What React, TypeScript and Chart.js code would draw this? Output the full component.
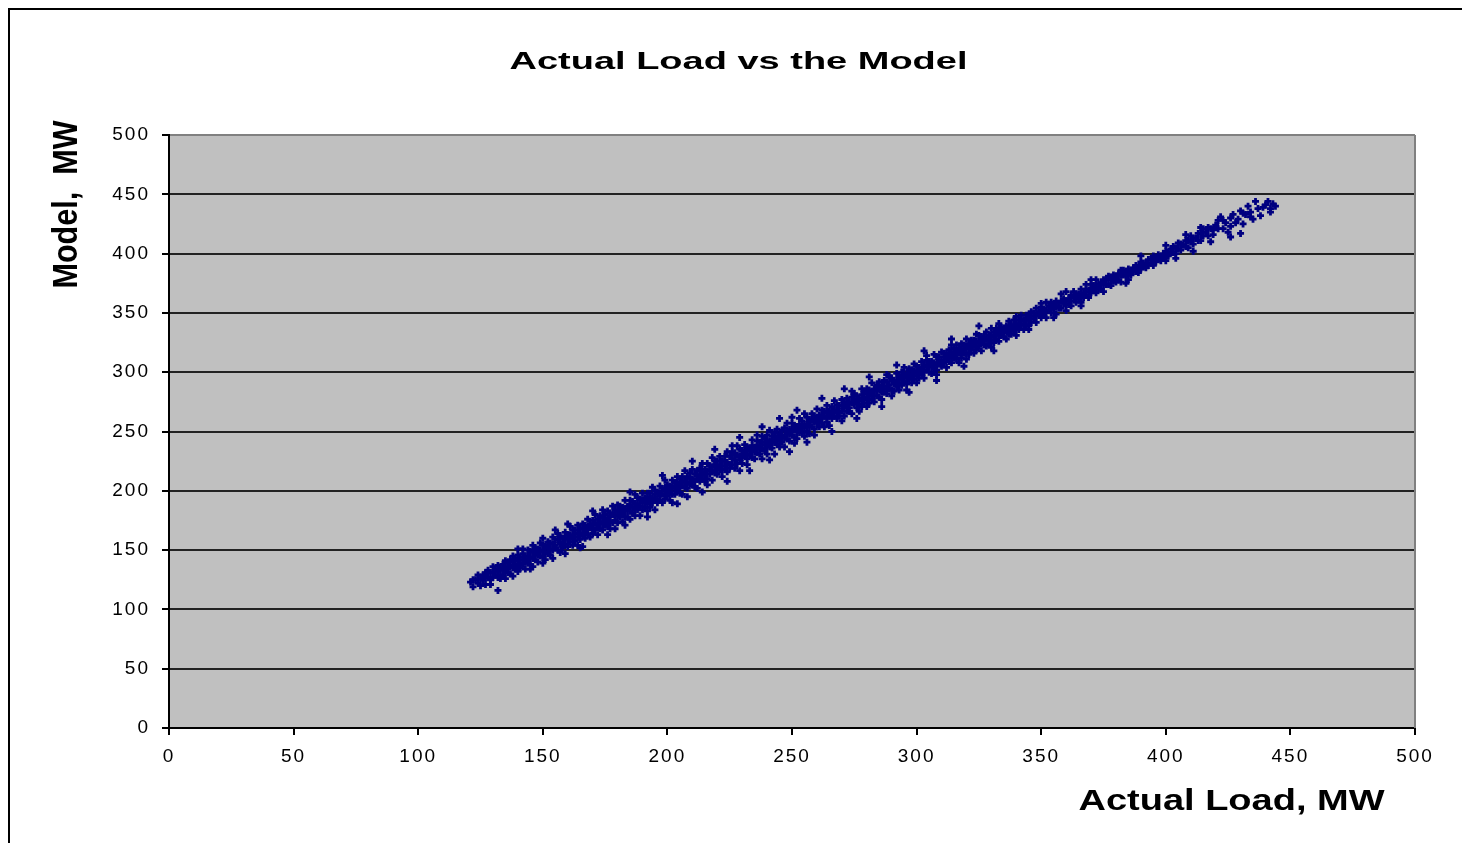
import React, { useEffect, useRef } from 'react';
import { Chart, registerables } from 'chart.js';

Chart.register(...registerables);

// Each row: [actual load MW, model MW readings at that load...]
const lowLoadRows: number[][] = [
  [121,123],[122,119,125],[123,125],[124,122,129],[125,120,126],[126,129,125],[127,121,131,127],[128,127,133],
  [129,125,131,121],[130,131,127,136],[131,129,134],[132,116,132,137,127],[133,135,129,126],[134,133,138,128],
  [135,136,132,141,126],[136,134,139,131],[137,137,130,142],[138,140,135,145,128],[139,138,143,134],
  [140,141,136,146,132],[141,139,144,135],[142,142,147,138,151],[143,140,145,134],[144,145,139,150,142],
  [145,144,149,138],[146,148,143,154,136],[147,147,142,152],[148,146,151,140,149],[149,150,145,156],
  [150,149,154,144,160],[151,153,148,142],[152,152,157,147,154],[153,151,156,146],[154,155,150,161,143],
  [155,154,159,152],[156,159,150,164],[157,157,155,162,148],[158,155,160,152],[159,160,165,155,147],
  [160,159,163,153],[161,163,157,170,161],[162,160,167,154],[163,164,158,167],[164,164,161,171,154],
  [165,164,168,159],[166,168,162,172,153],[167,165,171,160],[168,169,163,176,167],[169,169,172,161],
  [170,167,175,171,164],[171,173,167,180],[172,171,176,163,169],[173,174,168,179],[174,172,177,167,184],
  [175,175,171,180],
];

const midLoadRows: number[][] = [
  [176,177,170,183,174],[177,174,181,168,178],[178,180,173,187],[179,179,184,175,168],[180,179,183,173,188],
  [181,183,178,187],[182,180,186,174,182],[183,184,178,192,171],[184,183,187,178],[185,188,183,192,176],
  [186,186,181,191],[187,184,189,179,197],[188,189,184,194,187],[189,187,193,179],[190,192,184,198,190],
  [191,190,194,186],[192,193,189,198,183],[193,191,198,186,194],[194,194,190,203],[195,197,193,200,184],
  [196,193,199,190],[197,198,192,204,196],[198,197,202,190],[199,201,196,209,193],[200,200,196,205,202],
  [201,199,204,192],[202,203,197,209,190],[203,202,207,197,204],[204,207,201,212],[205,205,198,210,203],
  [206,204,208,197,212],[207,208,203,217],[208,207,212,202,195],[209,211,206,215],[210,210,205,218,209],
  [211,208,214,203],[212,213,210,217,202],[213,212,219,208],[214,216,210,223,214],[215,213,218,208],
  [216,217,210,223,205],[217,217,221,214],[218,217,220,209,228],[219,222,215,225],[220,218,225,214,220],
  [221,222,218,229],[222,221,225,212,218],[223,225,218,229],[224,224,222,233,216],[225,222,229,219],
  [226,227,222,233,238],[227,226,230,219,232],[228,230,223,238],[229,229,226,235,217],[230,228,234,223,231],
  [231,234,230,239],[232,231,227,237,222],[233,234,236,230],[234,234,228,243,238],[235,233,237,227],
  [236,237,232,242,247],[237,236,241,231,237],[238,241,235,246,227],[239,239,244,234],[240,238,242,231,247],
  [241,242,237,251,240],[242,241,246,236],[243,245,241,249,231],[244,244,239,252],[245,242,248,237,246],
  [246,247,245,251,241],[247,245,253,237],[248,250,244,257,248],[249,248,252,242],[250,251,247,257,262],
  [251,251,255,245,240],[252,250,254,244],[253,256,249,261,252],[254,253,259,249],[255,256,253,265,246],
  [256,256,250,262],[257,254,260,248,258],[258,260,254,265],[259,258,263,252,247],[260,261,257,269,260],
];

const upperLoadRows: number[][] = [
  [261,259,264,254],[262,263,257,268,261],[263,263,267,254],[264,261,266,272,258],[265,267,263,255],
  [266,265,271,261,267],[267,268,263,276],[268,268,261,272,266],[269,267,272,263],[270,272,267,277,259],
  [271,270,275,263],[272,273,267,278,272],[273,270,275,267],[274,274,279,265,284],[275,277,273,282],
  [276,275,270,280,277],[277,278,273,267],[278,276,281,286,271],[279,279,274,284],[280,282,277,286,271],
  [281,280,285,274],[282,283,280,291,277],[283,280,286,275],[284,284,289,280,285],[285,287,279,292],
  [286,285,289,277,283],[287,288,283,293],[288,286,292,282,298],[289,289,286,297],[290,293,285,295,280],
  [291,290,293,284],[292,293,288,299,290],[293,291,297,285],[294,294,300,289,296],[295,297,292,304],
  [296,295,290,299,285],[297,298,294,303],[298,296,302,291,298],[299,301,294,307],[300,300,297,305,291],
  [301,300,304,295],[302,303,298,309,301],[303,300,305,295],[304,306,302,310,314],[305,305,300,309],
  [306,305,309,299,307],[307,308,303,315],[308,306,313,302,298],[309,310,308,313],[310,310,305,317,307],
  [311,313,308,316],[312,311,316,304,313],[313,314,309,319],[314,312,317,308,323],[315,315,312,320],
  [316,318,311,323,315],[317,316,320,308],[318,319,316,324,312],[319,316,323,319],[320,322,316,328,311],
  [321,320,324,315],[322,323,319,327,321],[323,323,316,327],[324,322,326,319,332],[325,326,322,331],
  [326,325,330,318],[327,329,323,330,326],[328,328,322,334],[329,327,331,324],[330,331,327,337,321],
  [331,330,334,325],[332,333,328,337],[333,331,335,326,341],[334,334,331,338],[335,337,330,334],
  [336,335,339,328],[337,338,334,343,332],[338,336,340,332],[339,339,344,335],[340,341,337,347,331],
  [341,340,344,336],[342,344,340,348],[343,340,344,336],[344,344,348,340],[345,344,348,339],
];

const peakLoadRows: number[][] = [
  [346,347,342,351],[347,345,350],[348,348,342,354],[349,348,351],[350,351,346,355],[351,348,353],
  [352,352,346,359],[353,352,356],[354,355,350,359],[355,353,357],[356,356,349,360],[357,354,358],
  [358,360,354,366],[359,358,362],[360,357,360,352],[361,362,357],[362,360,365,356],[363,363,368],
  [364,363,359,366],[365,366,362],[366,364,370,359],[367,367,363],[368,370,365,374],[369,368,363],
  [370,371,367,374],[371,369,373],[372,372,367,378],[373,370,374],[374,375,370],[375,374,378,368],
  [376,378,374],[377,374,381],[378,378,373,380],[379,377,382],[380,381,376,379],[381,378,383],
  [382,382,376,386],[383,382,386],[384,385,381],[385,383,387,378],[386,386,382],[387,388,385],
  [388,385,390],[389,388,384],[390,391,387,393],[391,389,392],[392,392,388],[393,390,395],[394,395,392],
  [395,394,390,398],[396,396,393],[397,399,395],[398,397,394],[399,400,396],[400,398,402,394],
  [401,401,398],[402,404,401],[403,401,406],[404,405,400],[405,404,409],[406,408,403],[407,407],
  [408,406,411],[409,411,405],[410,410,415],[411,408,413],[412,413],[413,411,417],[414,417,411],
  [415,415,421],[416,418],[417,415,422],[418,421],[419,420,416],[420,422,424],[421,421,428],[423,428,421],
  [424,426],[426,423,414,430],[428,426],[429,429],[430,417,436],[431,434],[432,433],[434,435,431],
  [435,429],[436,444],[437,438],[439,439],[440,441],[442,435,438],[443,442],
];

// Readings lying further from the main band: [actual MW, model MW]
const outlierPairs: number[][] = [
  [140,151],[145,134],[150,139],[155,167],[160,172],[165,152],[170,183],[176,163],
  [185,199],[192,178],[198,213],[204,189],[210,225],[214,199],[219,235],[224,208],
  [229,245],[233,217],[238,254],[241,226],[245,261],[249,233],[252,268],[256,241],
  [262,278],[266,250],[271,286],[276,261],[281,296],[286,271],[292,306],[297,283],
  [303,318],[308,293],[314,328],[319,305],[325,339],[331,318],[345,336],[350,358],
  [355,346],[360,368],[366,356],[370,378],[384,375],[390,398],[400,407],[404,396],
  [408,416],[411,402],[414,422],[418,410],[422,431],[425,418],[427,433],[431,425],
  [433,440],[438,432],[441,444],[444,440],
];

const chartTitle = 'Actual Load vs the Model';
const xAxisTitle = 'Actual Load, MW';
const yAxisTitle = 'Model,  MW';
const axisMin = 0;
const axisMax = 500;
const axisStep = 50;

function toPoints(rows: number[][]) {
  return rows.flatMap(([x, ...ys]) => ys.map((y) => ({ x, y })));
}

export default function App() {
  const ref = useRef<HTMLCanvasElement>(null);

  useEffect(() => {
    const canvas = ref.current;
    if (!canvas) return;

    const excelLook = {
      id: 'excelLook',
      beforeDraw(chart: any) {
        const { ctx, chartArea } = chart;
        ctx.save();
        ctx.fillStyle = '#c0c0c0';
        ctx.fillRect(chartArea.left, chartArea.top, chartArea.right - chartArea.left, chartArea.bottom - chartArea.top);
        ctx.restore();
        (ctx as any).letterSpacing = '2px';
      },
      beforeDatasetsDraw(chart: any) {
        const { ctx, chartArea } = chart;
        ctx.save();
        ctx.strokeStyle = '#808080';
        ctx.lineWidth = 2;
        ctx.beginPath();
        ctx.moveTo(chartArea.right, chartArea.top);
        ctx.lineTo(chartArea.right, chartArea.bottom);
        ctx.stroke();
        ctx.restore();
      },
      afterDraw(chart: any) {
        const ctx = chart.ctx as CanvasRenderingContext2D;
        const draw = (text: string, font: string, x: number, y: number, len: number, thick: number, rotate: boolean) => {
          ctx.save();
          (ctx as any).letterSpacing = '0px';
          ctx.font = font;
          ctx.fillStyle = '#000';
          ctx.textAlign = 'center';
          ctx.textBaseline = 'alphabetic';
          const w = ctx.measureText(text).width;
          ctx.translate(x, y);
          if (rotate) ctx.rotate(-Math.PI / 2);
          ctx.scale(len / w, thick);
          ctx.fillText(text, 0, 0);
          ctx.restore();
        };
        draw(chartTitle, 'bold 24px "Liberation Sans", Arial, sans-serif', 728.5, 58.5, 458, 1, false);
        draw(xAxisTitle, 'bold 30px "Liberation Sans", Arial, sans-serif', 1221.5, 800, 306, 1, false);
        draw(yAxisTitle, 'bold 30px "Liberation Sans", Arial, sans-serif', 66.5, 194.5, 168, 1.16, true);
      },
    };

    const tickFont = { family: '"Liberation Sans", Arial, sans-serif', size: 19 };

    const chart = new Chart(canvas, {
      type: 'scatter',
      data: {
        datasets: [
          {
            label: 'Model',
            data: [
              ...toPoints(lowLoadRows),
              ...toPoints(midLoadRows),
              ...toPoints(upperLoadRows),
              ...toPoints(peakLoadRows),
              ...toPoints(outlierPairs),
            ],
            pointStyle: 'cross',
            pointRadius: 3.5,
            pointBorderWidth: 2.8,
            borderColor: '#000080',
            backgroundColor: '#000080',
            pointHoverRadius: 3.5,
          },
        ],
      },
      options: {
        animation: false,
        responsive: false,
        devicePixelRatio: 1,
        events: [],
        layout: { padding: { top: 125, right: 47, bottom: 0, left: 0 } },
        plugins: {
          legend: { display: false },
          title: { display: false },
          tooltip: { enabled: false },
        },
        scales: {
          x: {
            type: 'linear',
            min: axisMin,
            max: axisMax,
            afterFit: (scale: any) => { scale.height = 115; },
            ticks: { stepSize: axisStep, color: '#000', font: tickFont, padding: 10, maxRotation: 0, autoSkip: false },
            grid: { drawOnChartArea: false, drawTicks: true, tickLength: 7, tickColor: '#000', tickWidth: 2, color: '#000', lineWidth: 2 },
            border: { display: true, color: '#000', width: 2 },
          },
          y: {
            type: 'linear',
            min: axisMin,
            max: axisMax,
            afterFit: (scale: any) => { scale.width = 159; },
            ticks: { stepSize: axisStep, color: '#000', font: tickFont, padding: 12, autoSkip: false },
            grid: {
              drawOnChartArea: true,
              drawTicks: true,
              tickLength: 7,
              tickColor: '#000',
              tickWidth: 2,
              lineWidth: 2,
              color: (c: any) => (c.tick && c.tick.value === axisMax ? '#808080' : '#222'),
            },
            border: { display: true, color: '#000', width: 2 },
          },
        },
      },
      plugins: [excelLook],
    } as any);

    return () => chart.destroy();
  }, []);

  return (
    <div
      style={{
        position: 'fixed',
        left: 8,
        top: 8,
        width: 1454,
        height: 835,
        boxSizing: 'border-box',
        borderTop: '2px solid #000',
        borderLeft: '2px solid #000',
        overflow: 'hidden',
        background: '#fff',
      }}
    >
      <canvas ref={ref} width={1452} height={833} style={{ display: 'block', width: 1452, height: 833 }} />
    </div>
  );
}
